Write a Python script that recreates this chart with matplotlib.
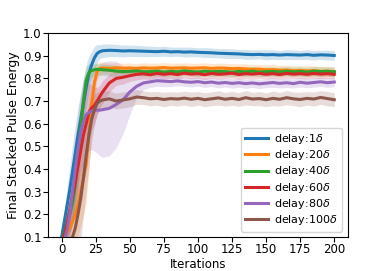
import matplotlib
matplotlib.use("Agg")
import matplotlib.pyplot as plt
import numpy as np

x = [0, 2, 4, 6, 8, 10, 12, 14, 16, 18, 20, 22, 24, 26, 28,
     30, 35, 40, 45, 50, 55, 60, 65, 70, 75, 80, 85, 90, 95, 100, 105, 110, 115,
     120, 125, 130, 135, 140, 145, 150, 155, 160, 165, 170, 175, 180, 185, 190, 195, 200]

labels = ["delay:1$\\delta$", "delay:20$\\delta$", "delay:40$\\delta$",
          "delay:60$\\delta$", "delay:80$\\delta$", "delay:100$\\delta$"]

mean_1 = [0.10, 0.17, 0.24, 0.31, 0.39, 0.47, 0.55, 0.62, 0.69, 0.76, 0.82, 0.86, 0.89, 0.91, 0.918,
          0.922, 0.924, 0.923, 0.921, 0.922, 0.921, 0.920, 0.919, 0.918, 0.920, 0.917, 0.918, 0.916, 0.917,
          0.915, 0.914, 0.913, 0.911, 0.910, 0.909, 0.908, 0.906, 0.905, 0.906, 0.904, 0.905, 0.903, 0.905,
          0.904, 0.903, 0.905, 0.902, 0.904, 0.903, 0.901]
std_1 = [0.02, 0.05, 0.08, 0.10, 0.12, 0.12, 0.12, 0.12, 0.11, 0.10, 0.08, 0.06, 0.05, 0.04, 0.03,
         0.03, 0.028, 0.027, 0.026, 0.025, 0.025, 0.024, 0.023, 0.022, 0.022, 0.021, 0.020, 0.022, 0.021,
         0.020, 0.022, 0.021, 0.020, 0.022, 0.021, 0.020, 0.022, 0.021, 0.020, 0.022, 0.021, 0.020, 0.022,
         0.021, 0.020, 0.022, 0.021, 0.020, 0.022, 0.021]

mean_20 = [0.08, 0.10, 0.12, 0.14, 0.17, 0.20, 0.24, 0.30, 0.36, 0.42, 0.55, 0.68, 0.78, 0.83, 0.843,
           0.846, 0.844, 0.847, 0.845, 0.846, 0.844, 0.847, 0.845, 0.846, 0.848, 0.845, 0.846, 0.847, 0.845,
           0.846, 0.847, 0.844, 0.846, 0.845, 0.843, 0.844, 0.842, 0.840, 0.841, 0.838, 0.839, 0.836, 0.837,
           0.834, 0.835, 0.833, 0.834, 0.831, 0.832, 0.830]
std_20 = [0.02, 0.04, 0.06, 0.08, 0.10, 0.12, 0.14, 0.15, 0.16, 0.17, 0.16, 0.12, 0.08, 0.04, 0.03,
          0.025, 0.024, 0.023, 0.022, 0.022, 0.021, 0.022, 0.022, 0.021, 0.022, 0.022, 0.021, 0.022, 0.022,
          0.021, 0.022, 0.022, 0.021, 0.022, 0.022, 0.021, 0.022, 0.022, 0.021, 0.022, 0.022, 0.021, 0.022,
          0.022, 0.021, 0.022, 0.022, 0.021, 0.022, 0.022]

mean_40 = [0.08, 0.12, 0.16, 0.20, 0.25, 0.33, 0.45, 0.58, 0.70, 0.79, 0.825, 0.835, 0.838, 0.84, 0.84,
           0.838, 0.836, 0.832, 0.830, 0.831, 0.833, 0.829, 0.830, 0.832, 0.828, 0.831, 0.829, 0.833, 0.830,
           0.828, 0.832, 0.829, 0.831, 0.830, 0.827, 0.831, 0.829, 0.832, 0.828, 0.830, 0.831, 0.828, 0.832,
           0.829, 0.831, 0.828, 0.832, 0.830, 0.831, 0.829]
std_40 = [0.02, 0.04, 0.06, 0.08, 0.10, 0.12, 0.13, 0.12, 0.10, 0.06, 0.04, 0.03, 0.025, 0.025, 0.025,
          0.025, 0.025, 0.024, 0.022, 0.021, 0.020, 0.021, 0.020, 0.021, 0.020, 0.021, 0.020, 0.021, 0.020,
          0.021, 0.020, 0.021, 0.020, 0.021, 0.020, 0.021, 0.020, 0.021, 0.020, 0.021, 0.020, 0.021, 0.020,
          0.021, 0.020, 0.021, 0.020, 0.021, 0.020, 0.021]

mean_60 = [0.08, 0.11, 0.16, 0.22, 0.28, 0.34, 0.41, 0.48, 0.55, 0.60, 0.65, 0.67, 0.68, 0.70, 0.72,
           0.74, 0.78, 0.80, 0.805, 0.812, 0.818, 0.820, 0.816, 0.822, 0.818, 0.821, 0.817, 0.823, 0.819,
           0.821, 0.816, 0.822, 0.818, 0.820, 0.823, 0.817, 0.821, 0.819, 0.822, 0.818, 0.821, 0.817, 0.822,
           0.819, 0.821, 0.818, 0.822, 0.819, 0.821, 0.818]
std_60 = [0.02, 0.05, 0.08, 0.10, 0.12, 0.14, 0.15, 0.16, 0.16, 0.15, 0.13, 0.10, 0.08, 0.06, 0.05,
          0.05, 0.04, 0.03, 0.03, 0.025, 0.025, 0.022, 0.021, 0.020, 0.021, 0.020, 0.021, 0.020, 0.021,
          0.020, 0.021, 0.020, 0.021, 0.020, 0.021, 0.020, 0.021, 0.020, 0.021, 0.020, 0.021, 0.020, 0.021,
          0.020, 0.021, 0.020, 0.021, 0.020, 0.021, 0.020]

mean_80 = [0.07, 0.09, 0.13, 0.20, 0.30, 0.40, 0.49, 0.56, 0.61, 0.64, 0.65, 0.655, 0.66, 0.66, 0.66,
           0.662, 0.668, 0.685, 0.705, 0.74, 0.765, 0.78, 0.785, 0.79, 0.788, 0.786, 0.789, 0.785, 0.783,
           0.786, 0.781, 0.784, 0.779, 0.782, 0.778, 0.781, 0.777, 0.780, 0.776, 0.779, 0.782, 0.778, 0.781,
           0.777, 0.783, 0.779, 0.782, 0.785, 0.781, 0.784]
std_80 = [0.02, 0.05, 0.08, 0.11, 0.13, 0.15, 0.16, 0.17, 0.18, 0.18, 0.17, 0.17, 0.18, 0.19, 0.20,
          0.21, 0.21, 0.19, 0.15, 0.10, 0.05, 0.03, 0.025, 0.025, 0.025, 0.022, 0.021, 0.020, 0.021,
          0.020, 0.021, 0.020, 0.021, 0.020, 0.021, 0.020, 0.021, 0.020, 0.021, 0.020, 0.021, 0.020, 0.021,
          0.020, 0.021, 0.020, 0.021, 0.020, 0.021, 0.020]

mean_100 = [0.06, 0.07, 0.08, 0.09, 0.10, 0.14, 0.20, 0.27, 0.36, 0.46, 0.55, 0.62, 0.66, 0.69, 0.70,
            0.705, 0.71, 0.70, 0.705, 0.71, 0.718, 0.715, 0.710, 0.712, 0.707, 0.711, 0.709, 0.713, 0.708,
            0.712, 0.706, 0.710, 0.714, 0.708, 0.712, 0.707, 0.715, 0.709, 0.711, 0.706, 0.712, 0.708, 0.715,
            0.710, 0.707, 0.712, 0.709, 0.716, 0.711, 0.706]
std_100 = [0.02, 0.05, 0.08, 0.12, 0.15, 0.17, 0.18, 0.18, 0.17, 0.16, 0.14, 0.10, 0.07, 0.05, 0.04,
           0.04, 0.035, 0.035, 0.035, 0.035, 0.032, 0.030, 0.031, 0.030, 0.032, 0.030, 0.031, 0.030, 0.032,
           0.030, 0.031, 0.030, 0.032, 0.030, 0.031, 0.030, 0.032, 0.030, 0.031, 0.030, 0.032, 0.030, 0.031,
           0.030, 0.032, 0.030, 0.031, 0.030, 0.032, 0.030]

means = [mean_1, mean_20, mean_40, mean_60, mean_80, mean_100]
stds = [std_1, std_20, std_40, std_60, std_80, std_100]
colors = ["#1f77b4", "#ff7f0e", "#2ca02c", "#d62728", "#9467bd", "#8c564b"]

plt.rcParams['font.size'] = 8.5
fig = plt.figure(figsize=(3.87, 2.71), dpi=100)
ax = fig.add_axes([0.124, 0.125, 0.775, 0.753])

xs = np.array(x)
for m, s, c, lab in zip(means, stds, colors, labels):
    m = np.array(m); s = np.array(s)
    ax.fill_between(xs, m - s, m + s, color=c, alpha=0.2, linewidth=0)
    ax.plot(xs, m, color=c, lw=2.2, label=lab)

ax.set_xlim(-10, 210)
ax.set_ylim(0.1, 1.0)
ax.set_xticks([0, 25, 50, 75, 100, 125, 150, 175, 200])
ax.set_yticks(np.arange(0.1, 1.01, 0.1))
ax.tick_params(labelsize=8.5, pad=1)
ax.set_xlabel("Iterations", fontsize=8.5, labelpad=1.5)
ax.set_ylabel("Final Stacked Pulse Energy", fontsize=9, labelpad=2.5)
ax.legend(loc="lower right", fontsize=8, labelspacing=0.2, handletextpad=0.6)

fig.savefig("out.png", dpi=100)
